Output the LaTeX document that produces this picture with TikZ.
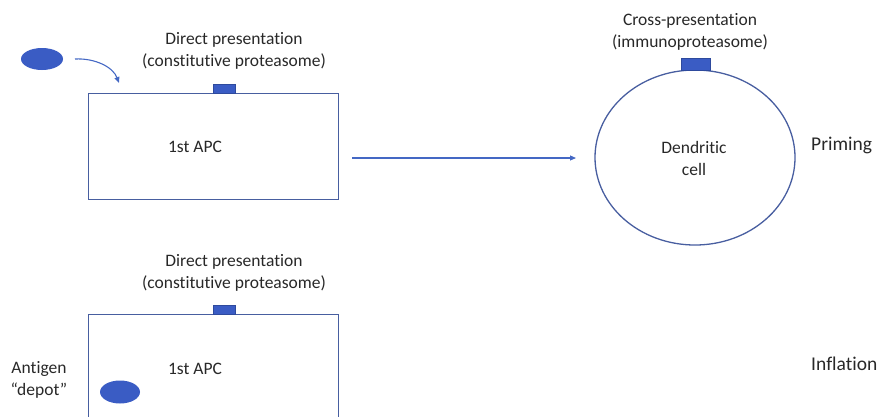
\documentclass[tikz,border=0pt]{standalone}
\usepackage{fontspec}
\setmainfont{Carlito}[Ligatures=NoCommon]
\usetikzlibrary{arrows.meta,shapes.geometric}
\definecolor{blobblue}{RGB}{58,92,196}
\definecolor{edgeblue}{RGB}{72,94,160}
\definecolor{arrowblue}{RGB}{68,104,196}
\definecolor{txt}{RGB}{40,40,40}
\tikzset{
  lbl/.style={text=txt,font=\fontsize{17.5}{22}\selectfont,align=center,inner sep=0pt},
  biglbl/.style={lbl,font=\fontsize{19.5}{22}\selectfont},
  cellbox/.style={draw=edgeblue,line width=1.3pt,fill=white},
  antigen/.style={ellipse,fill=blobblue,inner sep=0pt},
  mhc/.style={fill=blobblue,draw=blobblue!80!black,line width=0.3pt},
  conn/.style={draw=arrowblue,line width=1.1pt,-{Triangle[length=6pt,width=5pt]}},
}
\begin{document}
\begin{tikzpicture}[x=1pt,y=-1pt]
\useasboundingbox (0,0) rectangle (880,416);
\clip (0,0) rectangle (880,416);
% top: priming
\node[antigen,minimum width=42pt,minimum height=22pt] (ag1) at (42,59) {};
\node[cellbox,minimum width=250pt,minimum height=106pt,anchor=north west] (apc1) at (88,93) {};
\node[lbl] (apc1t) at (195,147) {1st APC};
\node[mhc,minimum width=22pt,minimum height=9pt,inner sep=0pt,anchor=south] (mhc1) at (224,93.5) {};
\node[lbl] (dp1) at (234,51) {Direct presentation\\(constitutive proteasome)};
\coordinate (c1s) at (75,59);
\coordinate (c1e) at (119,83);
\draw[conn] (c1s) .. controls (95,58) and (113,67) .. (c1e);
\node[draw=edgeblue,line width=1.3pt,ellipse,minimum width=200pt,minimum height=175pt,inner sep=0pt] (dc) at (695,157.5) {};
\node[lbl] (dct) at (694,158) {Dendritic\\cell};
\node[mhc,minimum width=29pt,minimum height=12pt,inner sep=0pt,anchor=south] (mhc2) at (695.5,70.5) {};
\node[lbl] (cp) at (690,32) {Cross-presentation\\(immunoproteasome)};
\node[biglbl,anchor=west] (prim) at (811,145) {Priming};
\coordinate (a1s) at (352,158);
\coordinate (a1e) at (576,158);
\draw[conn] (a1s) -- (a1e);
% bottom: inflation
\node[cellbox,minimum width=250pt,minimum height=140pt,anchor=north west] (apc2) at (88,314) {};
\node[lbl] (apc2t) at (195,369) {1st APC};
\node[mhc,minimum width=22pt,minimum height=9pt,inner sep=0pt,anchor=south] (mhc3) at (224,314.5) {};
\node[lbl] (dp2) at (234,273) {Direct presentation\\(constitutive proteasome)};
\node[antigen,minimum width=40pt,minimum height=23pt] (ag2) at (120,392) {};
\node[lbl] (depot) at (39,380) {Antigen\\``depot''};
\node[biglbl,anchor=west] (infl) at (811,364) {Inflation};
\end{tikzpicture}
\end{document}
